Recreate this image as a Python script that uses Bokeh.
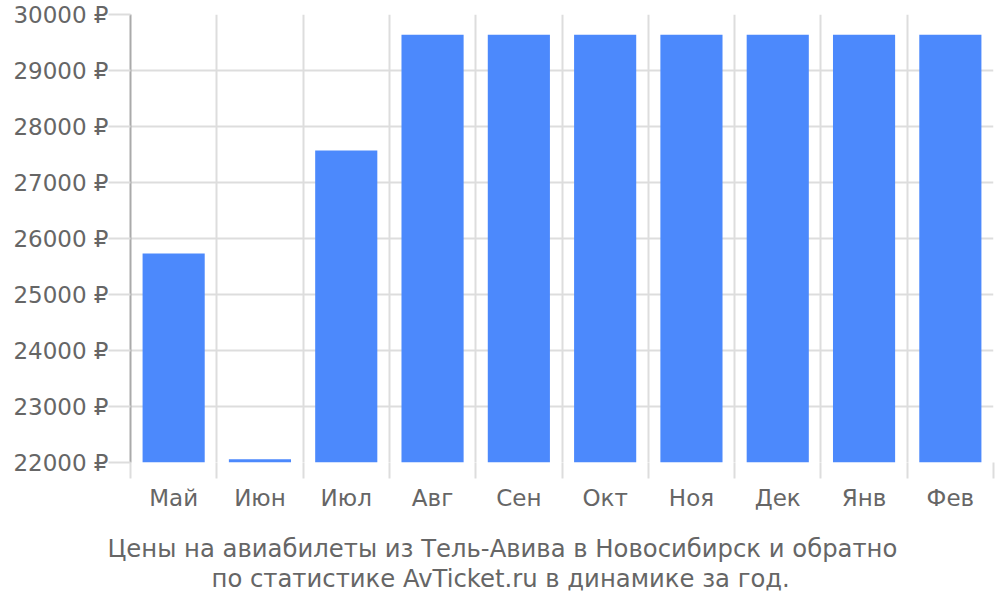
from bokeh.plotting import figure
from bokeh.models import (ColumnDataSource, FixedTicker, PrintfTickFormatter, Range1d, Title)
from bokeh.embed import file_html
from bokeh.resources import INLINE

months = ["Май", "Июн", "Июл", "Авг", "Сен", "Окт", "Ноя", "Дек", "Янв", "Фев"]
prices = [25730, 22060, 27570, 29640, 29640, 29640, 29640, 29640, 29640, 29640]
y_ticks = [22000, 23000, 24000, 25000, 26000, 27000, 28000, 29000, 30000]
title_lines = ["Цены на авиабилеты из Тель-Авива в Новосибирск и обратно",
               "по статистике AvTicket.ru в динамике за год."]

FONT = "DejaVu Sans"
TXT = "#666666"
GRID = "#dddddd"
FS = "23px"

n = len(months)
xs = [i + 0.5 for i in range(n)]
src = ColumnDataSource(dict(x=xs, top=prices, month=months))

p = figure(width=1000, height=600, output_backend="svg", toolbar_location=None,
           x_range=Range1d(0, n), y_range=Range1d(22000, 30000),
           min_border_left=130, min_border_right=7, min_border_top=14, min_border_bottom=138)
p.outline_line_color = None
p.background_fill_color = "white"
p.border_fill_color = "white"

p.vbar(x="x", top="top", bottom=22000, width=0.72, source=src,
       fill_color="#4C89FC", line_color=None)

# x axis: labels at centers, minor ticks at boundaries
p.xaxis.ticker = FixedTicker(ticks=xs, minor_ticks=list(range(n + 1)))
p.xaxis.major_label_overrides = {x: m for x, m in zip(xs, months)}
p.xaxis.axis_line_color = None
p.xaxis.major_tick_line_color = None
p.xaxis.major_tick_out = 14
p.xaxis.major_tick_in = 0
p.xaxis.minor_tick_line_color = GRID
p.xaxis.minor_tick_line_width = 2
p.xaxis.minor_tick_out = 16
p.xaxis.minor_tick_in = 0
p.xaxis.major_label_standoff = 6
p.xaxis.major_label_text_font = FONT
p.xaxis.major_label_text_font_size = FS
p.xaxis.major_label_text_color = TXT
p.xaxis.axis_label = " "
p.xaxis.axis_label_standoff = 0
p.xaxis.axis_label_text_font_size = "13px"

p.xgrid.ticker = FixedTicker(ticks=list(range(n + 1)))
p.xgrid.grid_line_color = GRID
p.xgrid.grid_line_width = 2

p.yaxis.ticker = FixedTicker(ticks=y_ticks)
p.yaxis.formatter = PrintfTickFormatter(format="%d ₽")
p.yaxis.axis_line_color = "#aaaaaa"
p.yaxis.axis_line_width = 2
p.yaxis.major_tick_line_color = GRID
p.yaxis.major_tick_line_width = 2
p.yaxis.major_tick_out = 22
p.yaxis.major_tick_in = 0
p.yaxis.minor_tick_line_color = None
p.yaxis.major_label_standoff = 0
p.yaxis.major_label_text_font = FONT
p.yaxis.major_label_text_font_size = FS
p.yaxis.major_label_text_color = TXT

p.ygrid.grid_line_color = GRID
p.ygrid.grid_line_width = 2

for line, off, so in zip(title_lines, [-23, 81], [0, -2]):
    p.add_layout(Title(text=line, align="left", offset=off, standoff=so,
                       text_font=FONT, text_font_size="24.3px", text_color=TXT,
                       text_font_style="normal"), "below")

open("out.html", "w").write(file_html(p, INLINE))
